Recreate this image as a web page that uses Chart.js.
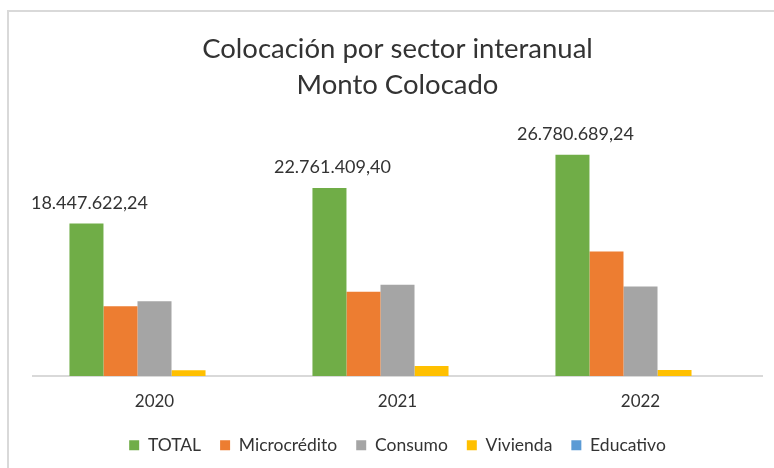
<!DOCTYPE html>
<html><head><meta charset="utf-8">
<script src="https://cdn.jsdelivr.net/npm/chart.js@4"></script>
<style>
html,body{margin:0;padding:0;background:#fff;overflow:hidden;width:774px;height:468px}
#frame{position:absolute;left:7px;top:10px;width:900px;height:700px;border:2px solid #d9d9d9;box-sizing:border-box}
#wrap{position:absolute;left:0;top:0;width:774px;height:468px}
</style></head><body>
<div id="frame"></div>
<div id="wrap"><canvas id="c" width="774" height="468"></canvas></div>
<script>
const categories = ['2020', '2021', '2022'];
const total = [18447622.24, 22761409.40, 26780689.24];
const microcredito = [8450000, 10180000, 15070000];
const consumo = [9050000, 11030000, 10820000];
const vivienda = [690000, 1210000, 730000];
const educativo = [0, 0, 0];
const seriesNames = ['TOTAL', 'Microcrédito', 'Consumo', 'Vivienda', 'Educativo'];
const titleLines = ['Colocación por sector interanual', 'Monto Colocado'];

const colors = ['#70AD47', '#ED7D31', '#A5A5A5', '#FFC000', '#5B9BD5'];
const FONT = 'Lato, "Liberation Sans", sans-serif';
const TEXT = '#333333';

function fmt(v) {
  const parts = v.toFixed(2).split('.');
  const intPart = parts[0].replace(/\B(?=(\d{3})+(?!\d))/g, '.');
  return intPart + ',' + parts[1];
}

const dataLabels = {
  id: 'dataLabels',
  afterDatasetsDraw(chart) {
    const ctx = chart.ctx;
    const meta = chart.getDatasetMeta(0);
    ctx.save();
    ctx.font = '18px ' + FONT;
    ctx.fillStyle = TEXT;
    ctx.textAlign = 'center';
    ctx.textBaseline = 'alphabetic';
    meta.data.forEach((bar, i) => {
      ctx.fillText(fmt(total[i]), bar.x + 3, bar.y - 15);
    });
    ctx.restore();
  }
};

function draw() {
  const seriesData = [total, microcredito, consumo, vivienda, educativo];
  new Chart(document.getElementById('c'), {
    type: 'bar',
    data: {
      labels: categories,
      datasets: seriesNames.map((n, i) => ({
        label: n,
        data: seriesData[i],
        backgroundColor: colors[i],
        borderWidth: 0,
        barPercentage: 1,
        categoryPercentage: 0.7
      }))
    },
    options: {
      responsive: false,
      animation: false,
      layout: { padding: { left: 33, right: 12, top: 0, bottom: 4 } },
      plugins: {
        tooltip: { enabled: false },
        title: {
          display: true,
          text: titleLines,
          color: TEXT,
          font: { family: FONT, size: 27.5, weight: 'normal', lineHeight: 1.31 },
          padding: { top: 31, bottom: 25 }
        },
        legend: {
          position: 'bottom',
          labels: {
            boxWidth: 10, boxHeight: 10, padding: 19,
            color: TEXT,
            font: { family: FONT, size: 17.5 }
          }
        }
      },
      scales: {
        x: {
          grid: { display: false, drawTicks: false },
          border: { display: true, color: '#d9d9d9', width: 2 },
          ticks: { color: TEXT, padding: 15, font: { family: FONT, size: 17 } },
          afterFit(scale) { scale.height = 41.5; }
        },
        y: { display: false, min: 0, max: 30000000 }
      }
    },
    plugins: [dataLabels]
  });
}

if (document.fonts && document.fonts.load) {
  Promise.all([document.fonts.load('16px Lato'), document.fonts.load('25px Lato')]).then(draw, draw);
} else { draw(); }
</script>
</body></html>
